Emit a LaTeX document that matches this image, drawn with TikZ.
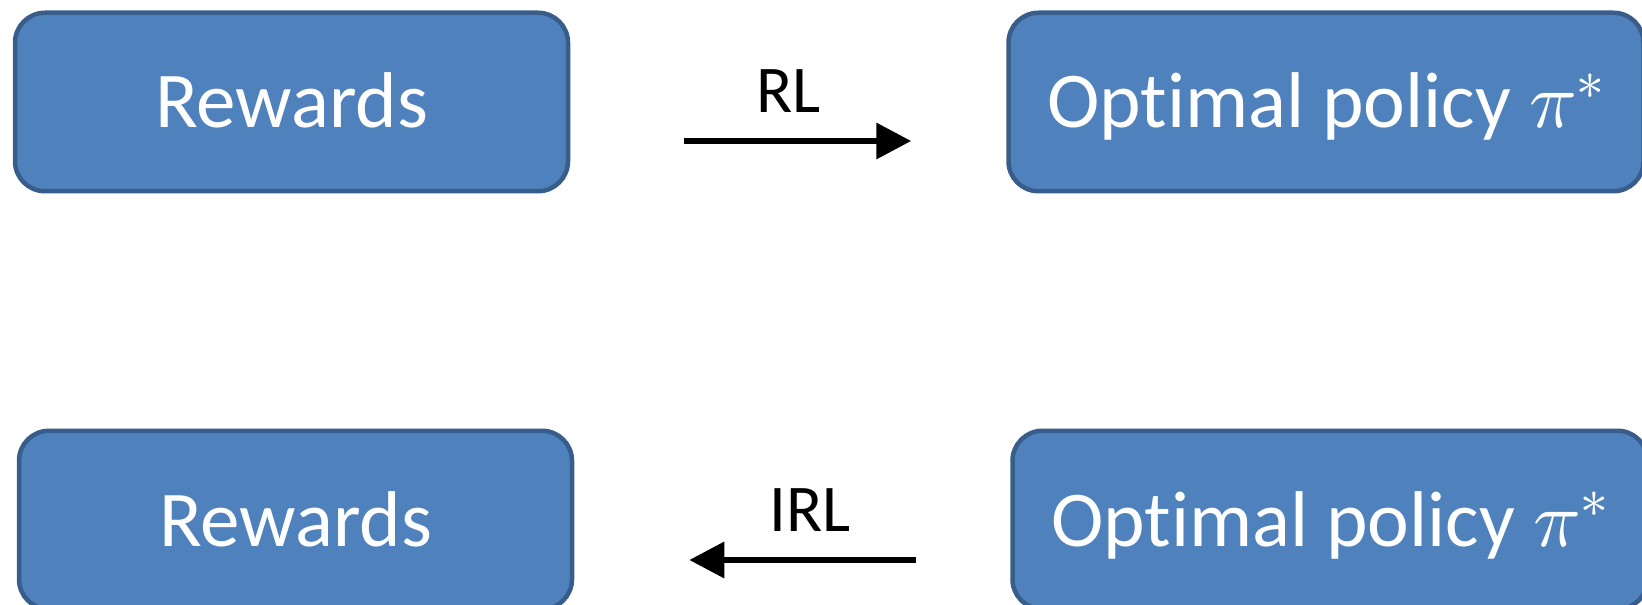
\documentclass[tikz,border=0pt]{standalone}
\usepackage{unicode-math}
\setmainfont{Carlito}[Ligatures=NoCommon]
\usetikzlibrary{arrows.meta,positioning}
\definecolor{boxfill}{RGB}{79,129,189}
\definecolor{boxedge}{RGB}{56,93,138}
\tikzset{
  rbox/.style={rounded corners=0.6cm, draw=boxedge, fill=boxfill, line width=0.09cm,
               minimum width=11.06cm, minimum height=3.57cm, text=white,
               text height=1.04cm, text depth=0pt, font=\fontsize{45pt}{50pt}\selectfont},
  pbox/.style={rbox, minimum width=12.7cm},
  flow/.style={-{Triangle[length=0.7cm, width=0.7cm]}, line width=0.13cm, draw=black},
  lbl/.style={anchor=base, font=\fontsize{38pt}{42pt}\selectfont},
}

\begin{document}
\begin{tikzpicture}[node distance=4.7cm and 8.72cm]
    \useasboundingbox (0,0) rectangle (32.84,-12.1);
    \node[rbox] (rw1) at (5.83,-2.04) {Rewards};
    \node[pbox, right=of rw1] (pol1) {Optimal policy $\pi^*$};
    \node[rbox, below=of rw1, xshift=0.08cm] (rw2) {Rewards};
    \node[pbox, right=of rw2] (pol2) {Optimal policy $\pi^*$};
    \draw[flow, shorten <=2.28cm, shorten >=1.9cm] ([yshift=-0.78cm]rw1.east) -- ([yshift=-0.78cm]pol1.west)
        node[lbl, midway, yshift=0.57cm] (rl) {RL};
    \draw[flow, shorten <=1.88cm, shorten >=2.3cm] ([yshift=-0.8cm]pol2.west) -- ([yshift=-0.8cm]rw2.east)
        node[lbl, midway, xshift=0.36cm, yshift=0.57cm] (irl) {IRL};
\end{tikzpicture}
\end{document}
